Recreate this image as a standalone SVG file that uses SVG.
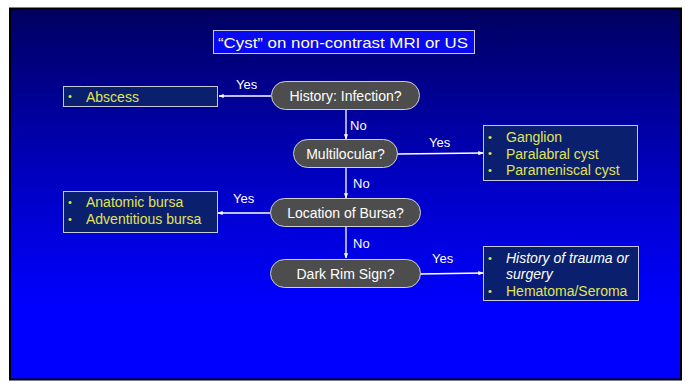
<svg xmlns="http://www.w3.org/2000/svg" width="686" height="382" viewBox="0 0 686 382">
<defs>
<linearGradient id="bg" x1="0" y1="0" x2="0" y2="1">
<stop offset="0" stop-color="#000060"/>
<stop offset="0.45" stop-color="#0000C0"/>
<stop offset="0.8" stop-color="#0000FF"/>
<stop offset="1" stop-color="#0000FF"/>
</linearGradient>
<marker id="ah" viewBox="0 0 10 10" refX="9" refY="5" markerWidth="4" markerHeight="4" orient="auto">
<path d="M0,1 L10,5 L0,9 Z" fill="#FFFFFF"/>
</marker>
<style>
text{font-family:"Liberation Sans",Arial,sans-serif;}
.pill{fill:#4D4D4D;stroke:#D0D0D0;stroke-width:1;}
.pt{fill:#FFFFFF;font-size:14px;text-anchor:middle;}
.box{fill:#0A1F6E;stroke:#C8C8D8;stroke-width:1;}
.it{fill:#E0E455;font-size:14px;}
.bul{fill:#E0E455;font-size:11px;}
.lab{fill:#FFFFFF;font-size:13px;}
.ln{stroke:#FFFFFF;stroke-width:1.3;fill:none;marker-end:url(#ah);}
</style>
</defs>
<rect x="0" y="0" width="686" height="382" fill="#FFFFFF"/>
<rect x="10" y="8.5" width="671" height="371" fill="url(#bg)" stroke="#000000" stroke-width="2"/>

<g id="title">
<rect x="213.5" y="30.5" width="261" height="23" fill="#0A0AF0" stroke="#C8C8D8"/>
<text x="218" y="47.5" font-size="15" fill="#FFFFCC" textLength="250" lengthAdjust="spacingAndGlyphs">“Cyst” on non-contrast MRI or US</text>
</g>

<g id="connectors">
<line class="ln" x1="271" y1="96" x2="219" y2="96"/>
<line class="ln" x1="346" y1="109" x2="346" y2="139"/>
<line class="ln" x1="397" y1="154" x2="483" y2="153"/>
<line class="ln" x1="346" y1="168" x2="346" y2="198"/>
<line class="ln" x1="270" y1="213" x2="218" y2="213"/>
<line class="ln" x1="346" y1="227" x2="346" y2="258"/>
<line class="ln" x1="420" y1="274" x2="483" y2="273"/>
<text class="lab" x="236" y="89">Yes</text>
<text class="lab" x="350" y="130">No</text>
<text class="lab" x="429" y="147">Yes</text>
<text class="lab" x="353" y="188">No</text>
<text class="lab" x="233" y="203">Yes</text>
<text class="lab" x="353" y="248">No</text>
<text class="lab" x="432" y="263">Yes</text>
</g>

<g id="q1">
<rect class="pill" x="271.5" y="81.5" width="148" height="28" rx="14"/>
<text class="pt" x="345.5" y="100.5">History: Infection?</text>
</g>
<g id="q2">
<rect class="pill" x="293.5" y="139.5" width="104" height="28" rx="14"/>
<text class="pt" x="345.5" y="158.5">Multilocular?</text>
</g>
<g id="q3">
<rect class="pill" x="270.5" y="198.5" width="150" height="28" rx="14"/>
<text class="pt" x="345.5" y="217.5">Location of Bursa?</text>
</g>
<g id="q4">
<rect class="pill" x="270.5" y="259.5" width="150" height="28" rx="14"/>
<text class="pt" x="345.5" y="278.5">Dark Rim Sign?</text>
</g>

<g id="abscess">
<rect class="box" x="63.5" y="86.5" width="154" height="20"/>
<text class="bul" x="68" y="100">•</text>
<text class="it" x="86" y="101.5">Abscess</text>
</g>
<g id="multi">
<rect class="box" x="483.5" y="125.5" width="154" height="55"/>
<text class="bul" x="488" y="141">•</text>
<text class="it" x="506" y="142">Ganglion</text>
<text class="bul" x="488" y="157">•</text>
<text class="it" x="506" y="158.5">Paralabral cyst</text>
<text class="bul" x="488" y="174">•</text>
<text class="it" x="506" y="175">Parameniscal cyst</text>
</g>
<g id="bursa">
<rect class="box" x="63.5" y="191.5" width="154" height="41"/>
<text class="bul" x="68" y="206">•</text>
<text class="it" x="86" y="207">Anatomic bursa</text>
<text class="bul" x="68" y="223">•</text>
<text class="it" x="86" y="224">Adventitious bursa</text>
</g>
<g id="rim">
<rect class="box" x="483.5" y="246.5" width="155" height="54"/>
<text class="bul" x="488" y="262">•</text>
<text class="it" x="506" y="263" style="fill:#FFFFFF;font-style:italic">History of trauma or</text>
<text class="it" x="506" y="279" style="fill:#FFFFFF;font-style:italic">surgery</text>
<text class="bul" x="488" y="295">•</text>
<text class="it" x="506" y="296">Hematoma/Seroma</text>
</g>
</svg>
